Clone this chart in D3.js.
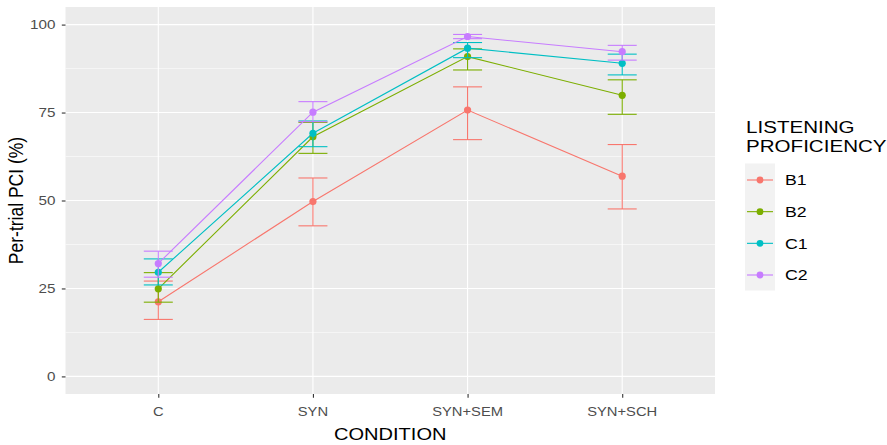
<!DOCTYPE html>
<html>
<head>
<meta charset="utf-8">
<script src="https://cdn.jsdelivr.net/npm/d3@7"></script>
<style>
  body { margin: 0; background: #fff; }
  text { font-family: Arial, "Liberation Sans", sans-serif; }
</style>
</head>
<body>
<div id="chart"></div>
<script>
// values
const conditions = ['C', 'SYN', 'SYN+SEM', 'SYN+SCH'];
const groups = ['B1', 'B2', 'C1', 'C2'];
const groupColors = ['#F8766D', '#7CAE00', '#00BFC4', '#C77CFF'];

// one row per group, one value per condition
const means = [
    [21.2, 49.7, 75.7, 56.9],
    [24.9, 68.1, 90.9, 79.9],
    [29.6, 69.1, 93.3, 89.0],
    [32.1, 75.1, 96.6, 92.3]
];
const lower = [
    [16.2, 42.8, 67.3, 47.6],
    [21.1, 63.4, 87.1, 74.5],
    [26.0, 65.3, 90.6, 85.7],
    [28.2, 72.4, 96.0, 89.9]
];
const upper = [
    [27.1, 56.4, 82.3, 65.9],
    [29.5, 72.2, 93.1, 84.3],
    [33.4, 72.6, 94.9, 91.6],
    [35.6, 78.1, 97.2, 94.1]
];
const yTicks = [0, 25, 50, 75, 100];
const yMinorTicks = [12.5, 37.5, 62.5, 87.5];

const width = 887, height = 445;
const panel = {left: 65.5, right: 715, top: 7, bottom: 394};
const stretch = 1.18;

const svg = d3.select('#chart')
    .append('svg')
    .attr('width', width)
    .attr('height', height);

const x = d3.scalePoint()
    .domain(conditions)
    .range([panel.left, panel.right])
    .padding(0.6);

const y = d3.scaleLinear()
    .domain([-5, 105])
    .range([panel.bottom, panel.top]);

// panel + grid
svg.append('rect')
    .attr('x', panel.left)
    .attr('y', panel.top)
    .attr('width', panel.right - panel.left)
    .attr('height', panel.bottom - panel.top)
    .attr('fill', '#EBEBEB');

const grid = svg.append('g');
grid.selectAll('.minor')
    .data(yMinorTicks)
    .join('line')
    .attr('x1', panel.left).attr('x2', panel.right)
    .attr('y1', d => y(d)).attr('y2', d => y(d))
    .attr('stroke', '#fff')
    .attr('stroke-width', 0.55);
grid.selectAll('.major-y')
    .data(yTicks)
    .join('line')
    .attr('x1', panel.left).attr('x2', panel.right)
    .attr('y1', d => y(d)).attr('y2', d => y(d))
    .attr('stroke', '#fff')
    .attr('stroke-width', 1.1);
grid.selectAll('.major-x')
    .data(conditions, d => d)
    .enter()
    .append('line')
    .attr('x1', d => x(d)).attr('x2', d => x(d))
    .attr('y1', panel.top).attr('y2', panel.bottom)
    .attr('stroke', '#fff')
    .attr('stroke-width', 1.1);

// axes
const xAxis = svg.append('g')
    .attr('transform', `translate(0,${panel.bottom})`)
    .call(d3.axisBottom(x).tickSize(3.7).tickPadding(0).tickFormat(''));
const yAxis = svg.append('g')
    .attr('transform', `translate(${panel.left},0)`)
    .call(d3.axisLeft(y).tickValues(yTicks).tickSize(3.7).tickFormat(''));
[xAxis, yAxis].forEach(a => {
    a.select('.domain').remove();
    a.selectAll('.tick line').attr('stroke', '#333').attr('stroke-width', 1.1);
});

function stretchedText(parent, x0, y0, txt, sx = stretch) {
    return parent.append('text')
        .attr('transform', `translate(${x0},${y0}) scale(${sx},1)`)
        .text(txt);
}

conditions.forEach(c => {
    stretchedText(svg, x(c), 415.5, c)
        .attr('text-anchor', 'middle')
        .attr('font-size', 12.5)
        .attr('fill', '#4D4D4D');
});
yTicks.forEach(t => {
    stretchedText(svg, 55.5, y(t) + 4.4, t, 1.22)
        .attr('text-anchor', 'end')
        .attr('font-size', 12.5)
        .attr('fill', '#4D4D4D');
});

stretchedText(svg, (panel.left + panel.right) / 2, 440, 'CONDITION')
    .attr('text-anchor', 'middle')
    .attr('font-size', 17);

svg.append('text')
    .attr('transform', `translate(22.5,${(panel.top + panel.bottom) / 2}) scale(${stretch},1) rotate(-90)`)
    .attr('text-anchor', 'middle')
    .attr('font-size', 17.5)
    .text('Per-trial PCI (%)');

// data layers
const capHalf = 14.5;
const series = groups.map((g, i) => ({
    name: g,
    color: groupColors[i],
    values: conditions.map((c, j) => ({cond: c, mean: means[i][j], lo: lower[i][j], hi: upper[i][j]}))
}));

const line = d3.line()
    .x(d => x(d.cond))
    .y(d => y(d.mean));

const plot = svg.append('g');
series.forEach(s => {
    const g = plot.append('g');
    g.append('path')
        .datum(s.values)
        .attr('d', line)
        .attr('fill', 'none')
        .attr('stroke', s.color)
        .attr('stroke-width', 1.1);

    const bars = g.selectAll('.err')
        .data(s.values)
        .join('g')
        .attr('stroke', s.color)
        .attr('stroke-width', 1.1);
    bars.append('line')
        .attr('x1', d => x(d.cond)).attr('x2', d => x(d.cond))
        .attr('y1', d => y(d.lo)).attr('y2', d => y(d.hi));
    bars.append('line')
        .attr('x1', d => x(d.cond) - capHalf).attr('x2', d => x(d.cond) + capHalf)
        .attr('y1', d => y(d.lo)).attr('y2', d => y(d.lo));
    bars.append('line')
        .attr('x1', d => x(d.cond) - capHalf).attr('x2', d => x(d.cond) + capHalf)
        .attr('y1', d => y(d.hi)).attr('y2', d => y(d.hi));

    g.selectAll('circle')
        .data(s.values)
        .join('circle')
        .attr('cx', d => x(d.cond))
        .attr('cy', d => y(d.mean))
        .attr('r', 3.6)
        .attr('fill', s.color);
});

// legend
const legend = svg.append('g');
stretchedText(legend, 746, 133.3, 'LISTENING', 1.24).attr('font-size', 16.6);
stretchedText(legend, 746, 151.7, 'PROFICIENCY', 1.24).attr('font-size', 16.6);

const keyY = d3.scalePoint()
    .domain(groups)
    .range([180, 275]);

legend.append('rect')
    .attr('x', 745)
    .attr('y', 163.5)
    .attr('width', 30)
    .attr('height', 127)
    .attr('fill', '#F2F2F2');

series.forEach(s => {
    const ky = keyY(s.name);
    legend.append('line')
        .attr('x1', 747).attr('x2', 773)
        .attr('y1', ky).attr('y2', ky)
        .attr('stroke', s.color)
        .attr('stroke-width', 1.1);
    legend.append('circle')
        .attr('cx', 760).attr('cy', ky)
        .attr('r', 3.4)
        .attr('fill', s.color);
    stretchedText(legend, 785, ky + 5.3, s.name)
        .attr('font-size', 15);
});
</script>
</body>
</html>
